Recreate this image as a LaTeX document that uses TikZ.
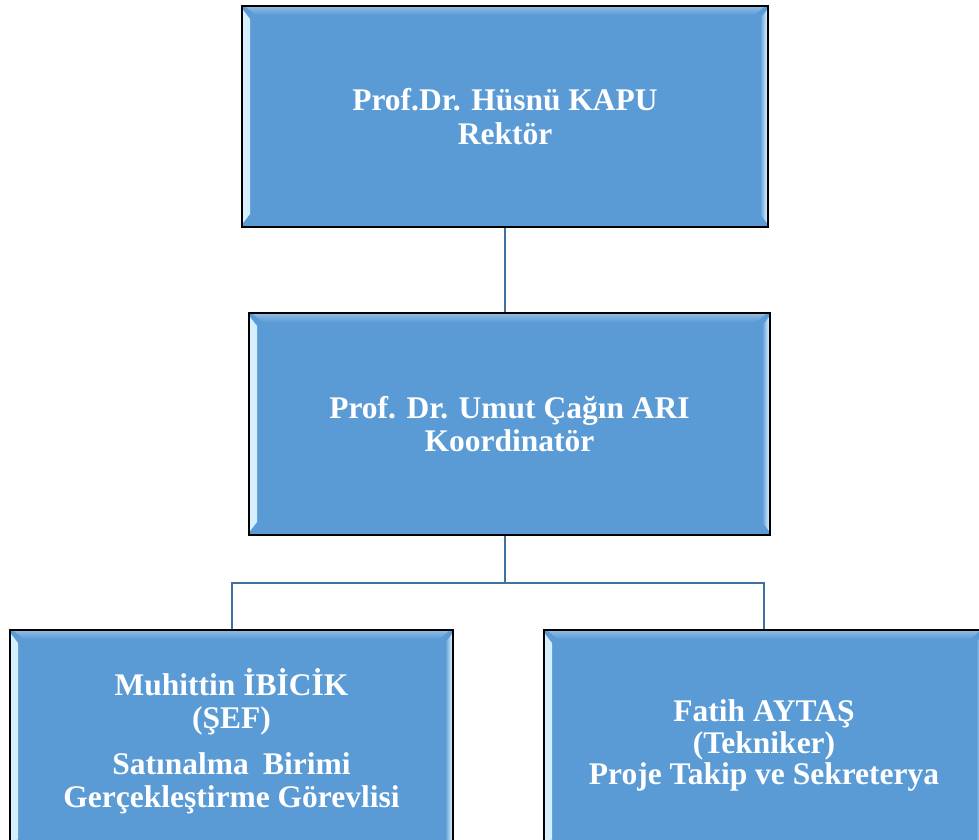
\documentclass[tikz,border=0pt]{standalone}
\usepackage{fontspec}
\setmainfont{Liberation Serif}
\usetikzlibrary{calc}
\definecolor{boxblue}{HTML}{5B9BD5}
\definecolor{bevellight}{HTML}{D6F0FF}
\definecolor{linkblue}{HTML}{41719C}
\tikzset{
  orgbox/.style={draw=black, line width=2pt, fill=boxblue, text=white,
    font=\bfseries\fontsize{31.5}{33.5}\selectfont, align=center, inner sep=0pt,
    path picture={
      \shade[left color=bevellight, right color=boxblue]
        ($(path picture bounding box.north west)+(1pt,-4pt)$) --
        ($(path picture bounding box.north west)+(8pt,-13pt)$) --
        ($(path picture bounding box.south west)+(8pt,13pt)$) --
        ($(path picture bounding box.south west)+(1pt,4pt)$) -- cycle;
      \shade[right color=bevellight, left color=boxblue]
        ($(path picture bounding box.north east)+(-1pt,-4pt)$) --
        ($(path picture bounding box.north east)+(-8pt,-13pt)$) --
        ($(path picture bounding box.south east)+(-8pt,13pt)$) --
        ($(path picture bounding box.south east)+(-1pt,4pt)$) -- cycle;
      \shade[top color=boxblue!70!white, bottom color=boxblue]
        ($(path picture bounding box.north west)+(4pt,-1pt)$) --
        ($(path picture bounding box.north east)+(-4pt,-1pt)$) --
        ($(path picture bounding box.north east)+(-14pt,-9pt)$) --
        ($(path picture bounding box.north west)+(14pt,-9pt)$) -- cycle;
    }},
  link/.style={draw=linkblue, line width=2pt}
}
\begin{document}
\begin{tikzpicture}[x=1pt,y=-1pt]
\useasboundingbox (0,0) rectangle (979,839);
\node[orgbox, minimum width=526pt, minimum height=221pt] (top) at (505,116.5)
  {Prof.Dr. Hüsnü KAPU\\Rektör};
\node[orgbox, minimum width=521pt, minimum height=222pt] (mid) at (509.5,424)
  {Prof. Dr. Umut Çağın ARI\\Koordinatör};
\node[orgbox, minimum width=443pt, minimum height=222pt] (bl) at (231.5,741)
  {Muhittin İBİCİK\\(ŞEF)\\[12pt]Satınalma\hspace{0.2em} Birimi\\Gerçekleştirme Görevlisi};
\node[orgbox, minimum width=440pt, minimum height=222pt] (br) at (764,741)
  {\rule{0pt}{31pt}Fatih AYTAŞ\\[-2pt](Tekniker)\\[-2pt]Proje Takip ve Sekreterya};
\coordinate (j) at (505,583);
\draw[link] (top.south) -- (top.south |- mid.north);
\draw[link] (top.south |- mid.south) -- (j);
\draw[link] (bl.north) |- (j) -| (br.north);
\end{tikzpicture}
\end{document}
